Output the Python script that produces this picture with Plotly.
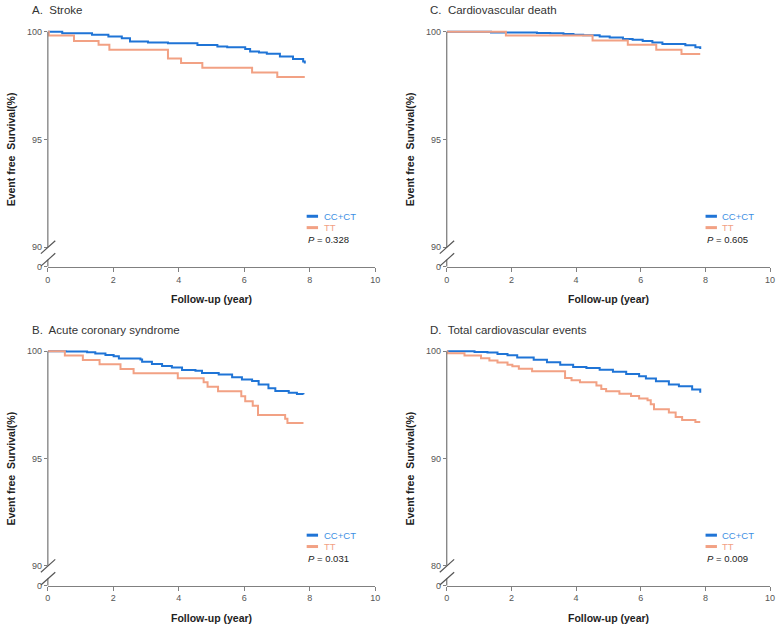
import plotly.graph_objects as go

W, H = 783, 632

# ---------------- data ----------------
# A. Stroke
A_CC_t = [0, 0.44, 1.35, 1.85, 2.26, 2.51, 3.06, 3.67, 4.57, 5.18, 5.48, 6.03, 6.18, 6.45, 6.69, 7.09, 7.49, 7.80, 7.85]
A_CC_s = [100, 99.92, 99.85, 99.77, 99.69, 99.54, 99.50, 99.46, 99.38, 99.31, 99.27, 99.20, 99.08, 99.03, 98.97, 98.85, 98.73, 98.62, 98.52]
A_TT_t = [0, 0.03, 0.80, 1.55, 1.88, 3.67, 4.07, 4.72, 6.24, 7.01, 7.85]
A_TT_s = [100, 99.82, 99.57, 99.39, 99.16, 98.75, 98.55, 98.32, 98.10, 97.89, 97.89]

# C. Cardiovascular death
C_CC_t = [0, 1.37, 2.79, 3.20, 3.61, 3.92, 4.22, 4.73, 5.04, 5.45, 5.75, 6.06, 6.36, 6.67, 7.38, 7.69, 7.84]
C_CC_s = [100, 99.96, 99.94, 99.92, 99.89, 99.86, 99.83, 99.77, 99.73, 99.66, 99.62, 99.56, 99.50, 99.43, 99.37, 99.28, 99.19]
C_TT_t = [0, 1.83, 4.51, 5.60, 6.48, 7.26, 7.84]
C_TT_s = [100, 99.82, 99.59, 99.39, 99.16, 98.96, 98.96]

# B. Acute coronary syndrome
B_CC_t = [0, 0.55, 1.20, 1.45, 1.76, 2.01, 2.17, 2.83, 2.88, 3.18, 3.49, 3.79, 4.10, 4.51, 4.71, 5.22, 5.63, 5.93, 6.24, 6.44, 6.74, 6.95, 7.36, 7.61, 7.81]
B_CC_s = [100, 99.99, 99.95, 99.89, 99.83, 99.77, 99.66, 99.62, 99.51, 99.40, 99.31, 99.24, 99.13, 99.09, 98.99, 98.91, 98.79, 98.68, 98.61, 98.45, 98.28, 98.15, 98.07, 98.01, 98.00]
B_TT_t = [0, 0.52, 1.07, 1.58, 2.22, 2.62, 3.97, 4.76, 4.88, 5.20, 5.91, 6.03, 6.26, 6.42, 7.25, 7.32, 7.81]
B_TT_s = [100, 99.80, 99.59, 99.39, 99.17, 98.97, 98.74, 98.56, 98.34, 98.13, 97.90, 97.67, 97.46, 97.03, 96.85, 96.65, 96.65]

# D. Total cardiovascular events
D_CC_t = [0, 0.86, 1.26, 1.57, 1.88, 2.18, 2.69, 3.10, 3.51, 3.91, 4.32, 4.73, 5.14, 5.55, 5.95, 6.16, 6.47, 6.87, 7.18, 7.59, 7.84]
D_CC_s = [100, 99.94, 99.88, 99.75, 99.63, 99.41, 99.20, 98.98, 98.74, 98.52, 98.43, 98.28, 98.09, 97.88, 97.66, 97.45, 97.20, 96.90, 96.74, 96.43, 96.12]
D_TT_t = [0, 0.02, 0.55, 1.06, 1.32, 1.57, 1.88, 2.03, 2.23, 2.64, 3.66, 3.86, 4.12, 4.63, 4.78, 4.93, 5.34, 5.70, 5.95, 6.21, 6.31, 6.41, 6.87, 7.08, 7.28, 7.69, 7.84]
D_TT_s = [100, 99.82, 99.60, 99.35, 99.13, 98.96, 98.74, 98.59, 98.37, 98.13, 97.50, 97.29, 97.10, 96.80, 96.49, 96.28, 96.03, 95.82, 95.60, 95.42, 95.05, 94.59, 94.28, 93.88, 93.60, 93.40, 93.40]

titles = ["A.  Stroke", "C.  Cardiovascular death", "B.  Acute coronary syndrome", "D.  Total cardiovascular events"]
p_values = ["0.328", "0.605", "0.031", "0.009"]
group_names = ["CC+CT", "TT"]
x_ticks = [0, 2, 4, 6, 8, 10]
y_low_ticks = [90, 90, 90, 80]   # lowest labelled value above the axis break
y_mid_ticks = [95, 95, 95, 90]
x_title = "Follow-up (year)"
y_title = "Event free  Survival(%)"

# ---------------- styles / geometry ----------------
BLUE = "#1f74d6"
BLUE_TXT = "#3d8fe3"
SALMON = "#f2a184"
AXIS = "#808080"
TXT = "#333333"
FONT = "Arial, Liberation Sans, sans-serif"

cols = [(45.3, 376.0), (448.3, 775.0)]
rows = [dict(axis=267.0, top=29.0, lo=247.3), dict(axis=590.0, top=352.7, lo=570.0)]
layout_pos = [(0, 0), (1, 0), (0, 1), (1, 1)]  # (col,row) for A, C, B, D

series = [(A_CC_t, A_CC_s, A_TT_t, A_TT_s), (C_CC_t, C_CC_s, C_TT_t, C_TT_s),
          (B_CC_t, B_CC_s, B_TT_t, B_TT_s), (D_CC_t, D_CC_s, D_TT_t, D_TT_s)]


def px(x):
    return x / W


def py(y):
    return 1 - y / H


fig = go.Figure()
shapes = []
annotations = []
layout = {}

for i in range(4):
    c, r = layout_pos[i]
    x0, x1 = cols[c]
    g = rows[r]
    lo = y_low_ticks[i]
    ppu = (g["lo"] - g["top"]) / (100 - lo)
    r0 = lo - (g["axis"] - g["lo"]) / ppu
    pad = 2.2
    r1 = 100 + pad / ppu
    sfx = "" if i == 0 else str(i + 1)
    xa, ya = "xaxis" + sfx, "yaxis" + sfx

    layout[xa] = dict(domain=[px(x0), px(x1)], range=[0, 10], tickvals=x_ticks,
                      showline=True, linecolor=AXIS, linewidth=1.3, ticks="outside",
                      ticklen=4, tickcolor=AXIS, tickwidth=1.2, showgrid=False, zeroline=False,
                      ticklabeloverflow="allow",
                      tickfont=dict(size=9, color="#555555", family=FONT), anchor="y" + sfx)
    layout[ya] = dict(domain=[py(g["axis"]), py(g["top"] - pad)], range=[r0, r1],
                      tickvals=[r0, lo, y_mid_ticks[i], 100],
                      ticktext=["0", str(lo), str(y_mid_ticks[i]), "100"],
                      showline=False, ticks="outside", ticklen=3, tickcolor=AXIS, tickwidth=1.2,
                      showgrid=False, zeroline=False,
                      tickfont=dict(size=9, color="#555555", family=FONT), anchor="x" + sfx)

    cct, ccs, ttt, tts = series[i]
    fig.add_trace(go.Scatter(x=cct, y=ccs, mode="lines", line=dict(color=BLUE, width=2, shape="hv"),
                             name=group_names[0], xaxis="x" + sfx, yaxis="y" + sfx, showlegend=False))
    fig.add_trace(go.Scatter(x=ttt, y=tts, mode="lines", line=dict(color=SALMON, width=2, shape="hv"),
                             name=group_names[1], xaxis="x" + sfx, yaxis="y" + sfx, showlegend=False))

    # broken y axis line
    shapes.append(dict(type="line", xref="paper", yref="paper", x0=px(x0), x1=px(x0),
                       y0=py(g["lo"]), y1=py(g["top"]), line=dict(color=AXIS, width=1.3)))
    shapes.append(dict(type="line", xref="paper", yref="paper", x0=px(x0), x1=px(x0),
                       y0=py(g["axis"]), y1=py(g["axis"] - 7), line=dict(color=AXIS, width=1.3)))
    # break marks
    for cy in (g["lo"], g["axis"] - 7):
        shapes.append(dict(type="line", xref="paper", yref="paper",
                           x0=px(x0 - 7), y0=py(cy + 6.5), x1=px(x0 + 7.5), y1=py(cy - 6.5),
                           line=dict(color="#555555", width=1.2)))

    # legend
    ax_ = g["axis"]
    for k, (col, dy) in enumerate([(BLUE, 51.0), (SALMON, 39.5)]):
        shapes.append(dict(type="line", xref="paper", yref="paper",
                           x0=px(x0 + 261.5), x1=px(x0 + 273), y0=py(ax_ - dy), y1=py(ax_ - dy),
                           line=dict(color=col, width=3)))
        annotations.append(dict(text=group_names[k], xref="paper", yref="paper",
                                x=px(x0 + 276.5), y=py(ax_ - dy), xanchor="left", yanchor="middle",
                                showarrow=False,
                                font=dict(size=9.5, color=BLUE_TXT if k == 0 else SALMON, family=FONT)))
    annotations.append(dict(text="<i>P</i> = " + p_values[i], xref="paper", yref="paper",
                            x=px(x0 + 261), y=py(ax_ - 27.5), xanchor="left", yanchor="middle",
                            showarrow=False, font=dict(size=9.5, color="#222222", family=FONT)))

    # panel title
    annotations.append(dict(text=titles[i], xref="paper", yref="paper",
                            x=px(x0 - 18.5), y=py(g["top"] - 21.5), xanchor="left", yanchor="middle",
                            showarrow=False, font=dict(size=11.5, color=TXT, family=FONT)))
    # axis titles
    annotations.append(dict(text="<b>" + x_title + "</b>", xref="paper", yref="paper",
                            x=px((x0 + x1) / 2), y=py(ax_ + 33), xanchor="center", yanchor="middle",
                            showarrow=False, font=dict(size=10.5, color="#222222", family=FONT)))
    annotations.append(dict(text="<b>" + y_title + "</b>", xref="paper", yref="paper",
                            x=px(x0 - 37), y=py((g["top"] + ax_) / 2), xanchor="center", yanchor="middle",
                            textangle=-90, showarrow=False,
                            font=dict(size=10.5, color="#222222", family=FONT)))

fig.update_layout(width=W, height=H, margin=dict(l=0, r=0, t=0, b=0),
                  paper_bgcolor="white", plot_bgcolor="white", showlegend=False,
                  shapes=shapes, annotations=annotations, **layout)

fig.write_html("out.html", config={"displayModeBar": False},
               post_script="document.body.style.margin='0';document.body.style.padding='0';")
